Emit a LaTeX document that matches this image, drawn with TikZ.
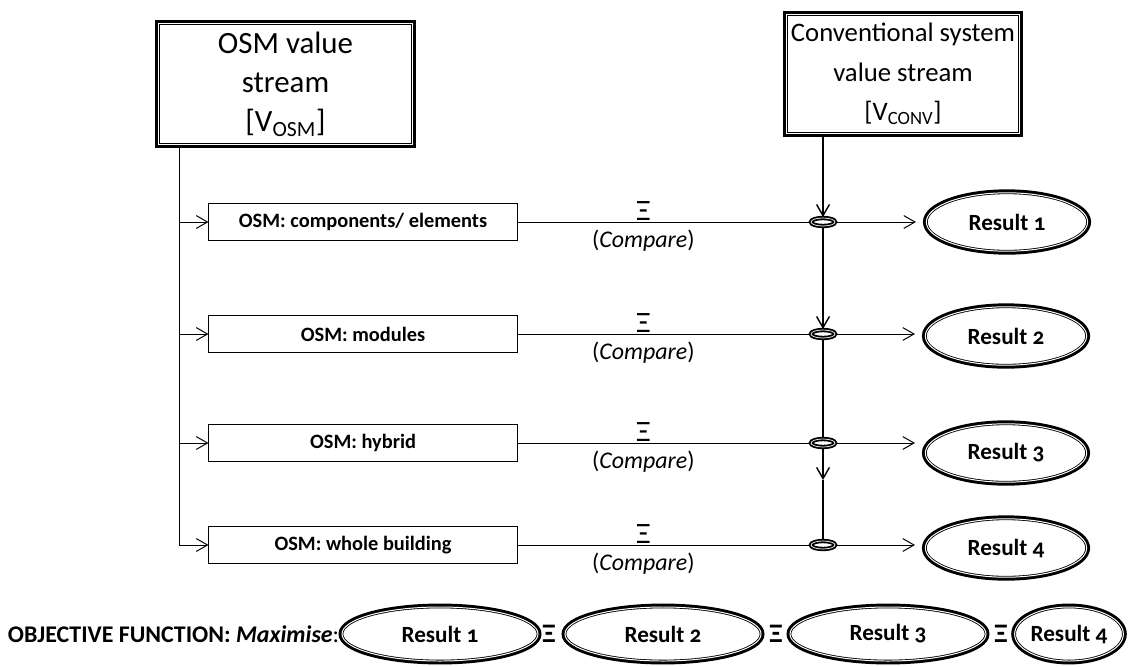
\documentclass[tikz,border=0pt]{standalone}
\usepackage{fontspec}
\setmainfont{Carlito}[Numbers=OldStyle]
\usetikzlibrary{arrows.meta,shapes.geometric,positioning}

\begin{document}
\begin{tikzpicture}[x=0.025cm, y=-0.025cm, line width=0.7pt,
    stream/.style={rectangle, preaction={draw, line width=4.9pt}, fill=white, draw, double, double distance=0.7pt, line width=0.6pt, align=center, font=\fontsize{19}{28}\selectfont},
    level/.style={draw, rectangle, minimum width=7.7cm, minimum height=0.925cm, font=\bfseries\fontsize{14.5}{16}\selectfont},
    result/.style={ellipse, preaction={draw, line width=4.9pt}, fill=white, draw, double, double distance=0.7pt, line width=0.6pt, inner sep=0pt, font=\bfseries\fontsize{16.5}{18}\selectfont},
    joint/.style={ellipse, draw, double, double distance=0.5pt, line width=1.3pt, minimum width=0.6cm, minimum height=0.2cm, inner sep=0pt},
    arr/.style={-{Straight Barb[length=2.8mm, width=3.2mm]}},
    eq/.style={font=\fontsize{17}{19}\selectfont, inner sep=1pt}]
  \useasboundingbox (0,0) rectangle (1131,666);

  % value streams
  \node (osm) at (285.5,84) [stream, minimum width=6.35cm, minimum height=3.03cm, font=\fontsize{22}{28}\selectfont] {OSM value\\ stream\\ {[}V\textsubscript{OSM}{]}};
  \node (conv) at (903,74) [stream, minimum width=5.48cm, minimum height=2.98cm] {Conventional system\\ value stream\\ {[}V\textsubscript{CONV}{]}};

  % OSM levels
  \node (l1) at (363,222) [level] {OSM: components/ elements};
  \node (l2) at (363,334) [level] {OSM: modules};
  \node (l3) at (363,443) [level] {OSM: hybrid};
  \node (l4) at (363,545) [level] {OSM: whole building};

  % comparison points
  \node (j1) at (823,222) [joint] {};
  \node (j2) at (823,334) [joint] {};
  \node (j3) at (823,443) [joint] {};
  \node (j4) at (823,545) [joint] {};

  % results
  \node (r1) at (1007,222) [result, minimum width=4.03cm, minimum height=1.46cm] {Result 1};
  \node (r2) at (1006,336) [result, minimum width=4.03cm, minimum height=1.46cm] {Result 2};
  \node (r3) at (1006,453) [result, minimum width=4.03cm, minimum height=1.46cm] {Result 3};
  \node (r4) at (1006,548) [result, minimum width=4.03cm, minimum height=1.46cm] {Result 4};

  \coordinate (trunk) at (179,545);
  \coordinate (split) at (823,480);

  \draw[arr] (osm.south -| trunk) |- (l4);
  \foreach \i in {1,2,3}
    \draw[arr] (trunk |- l\i) -- (l\i);

  \draw[arr, line width=1pt] (conv.south -| j1) -- (j1);
  \draw[arr, line width=1pt] (j1) -- (j2);
  \draw[line width=1pt] (j2) -- (j3);
  \draw[arr, line width=1pt] (j3) -- (split);
  \draw[line width=0.8pt] (split) -- (j4);

  \foreach \i in {1,...,4} {
    \draw (l\i) -- (j\i) node[pos=.43, above, eq, font=\fontsize{21}{22}\selectfont, inner sep=0.5pt] {Ξ} node[pos=.43, below, eq, yshift=-4pt] {(\textit{Compare})};
    \draw[arr, shorten >=0.25cm] (j\i) -- (j\i -| r\i.west);
  }

  % objective function
  \node (b1) at (440,634) [result, minimum width=4.9cm, minimum height=1.35cm] {Result 1};
  \node (b2) at (663,634) [result, minimum width=4.9cm, minimum height=1.35cm] {Result 2};
  \node (b3) at (888,634) [result, minimum width=4.9cm, minimum height=1.35cm] {Result 3};
  \node (b4) at (1069,634) [result, minimum width=2.7cm, minimum height=1.35cm] {Result 4};
  \node (e1) at (549,634) [eq, font=\bfseries\fontsize{19}{20}\selectfont] {Ξ};
  \node (e2) at (776,634) [eq, font=\bfseries\fontsize{19}{20}\selectfont] {Ξ};
  \node (e3) at (1001,634) [eq, font=\bfseries\fontsize{19}{20}\selectfont] {Ξ};
  \node (goal) [left=0.05cm of b1, inner sep=0pt, font=\fontsize{17}{19}\selectfont] {\textbf{OBJECTIVE FUNCTION: \textit{Maximise}}:};
\end{tikzpicture}
\end{document}
